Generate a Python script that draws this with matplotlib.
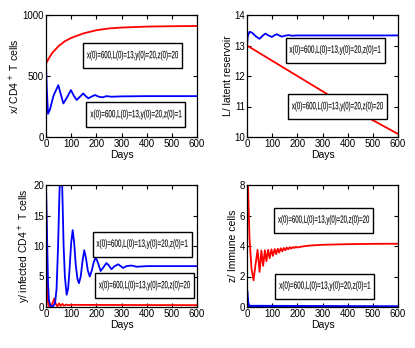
import matplotlib
matplotlib.use("Agg")
import matplotlib.pyplot as plt
import matplotlib.transforms as mtransforms
from matplotlib.textpath import TextPath
from matplotlib.font_manager import FontProperties
from matplotlib.patches import PathPatch, Rectangle

plt.rcParams['font.family'] = ['Liberation Sans', 'DejaVu Sans']

# labels for the two runs
lab_z1 = "x(0)=600,L(0)=13,y(0)=20,z(0)=1"
lab_z20 = "x(0)=600,L(0)=13,y(0)=20,z(0)=20"

# x: CD4+ T cells
x_red_t = [0, 10, 25, 50, 75, 100, 150, 200, 250, 300, 400, 500, 600]
x_red_v = [600, 640, 690, 745, 785, 812, 850, 875, 890, 897, 905, 908, 910]
x_blue_t = [0, 3, 8, 15, 30, 49, 60, 69, 85, 99, 110, 122, 135, 148, 158, 168,
            180, 194, 210, 225, 240, 260, 300, 400, 600]
x_blue_v = [600, 400, 190, 220, 340, 425, 340, 275, 330, 385, 340, 303, 330, 357, 335, 317,
            330, 344, 330, 325, 335, 330, 333, 335, 335]

# L: latent reservoir
L_red_t = [0, 100, 200, 300, 400, 500, 600]
L_red_v = [13.0, 12.5, 12.0, 11.5, 11.0, 10.55, 10.1]
L_blue_t = [0, 3, 10, 20, 35, 50, 62, 73, 85, 99, 110, 119, 130, 139, 150, 165, 180,
            200, 300, 600]
L_blue_v = [13.0, 13.3, 13.45, 13.42, 13.3, 13.22, 13.32, 13.39, 13.33, 13.28, 13.34, 13.37,
            13.32, 13.29, 13.32, 13.34, 13.32, 13.33, 13.33, 13.33]

# y: infected CD4+ T cells
y_blue_t = [0, 4, 8, 12, 18, 28, 36, 42, 48, 53, 57, 60, 63, 66, 70, 75, 82, 88, 94, 100,
            106, 112, 118, 125, 131, 138, 145, 152, 159, 166, 174, 182, 190, 198, 207, 217,
            228, 240, 250, 260, 273, 287, 297, 306, 320, 340, 360, 400, 600]
y_blue_v = [20, 12, 4, 1, 0.2, 0.1, 0.6, 3, 10, 18, 23, 24, 22, 17, 10, 5, 2.0, 3, 6.5, 10.5,
            12.6, 10.5, 7, 4.6, 3.9, 5, 7.5, 9.3, 8, 6, 5.0, 6, 7.4, 8.1, 7.2, 5.9,
            6.5, 7.2, 6.8, 6.2, 6.7, 7.0, 6.7, 6.4, 6.7, 6.8, 6.6, 6.7, 6.7]
y_red_t = [0, 2, 5, 10, 20, 28, 33, 38, 45, 52, 58, 66, 72, 80, 90, 100, 600]
y_red_v = [20, 10, 2, 0.2, 0.1, 0.8, 1.4, 0.6, 0.1, 0.6, 0.2, 0.5, 0.2, 0.4, 0.3, 0.35, 0.3]

# z: immune cells
z_red_t = [0, 4, 10, 18, 26, 34, 42, 50, 57, 64, 71, 77, 84, 90, 97, 103, 110, 116, 122,
           128, 134, 140, 146, 152, 158, 164, 170, 176, 182, 188, 194, 200, 220, 250, 300,
           350, 400, 500, 600]
z_red_v = [20, 8, 4.5, 2.5, 1.75, 2.8, 3.75, 2.3, 3.7, 2.7, 3.72, 3.0, 3.75, 3.2, 3.78, 3.35,
           3.8, 3.47, 3.82, 3.57, 3.85, 3.65, 3.87, 3.72, 3.9, 3.78, 3.92, 3.83, 3.93, 3.87,
           3.95, 3.9, 3.97, 4.03, 4.08, 4.1, 4.12, 4.14, 4.15]
z_blue_t = [0, 3, 8, 600]
z_blue_v = [1, 0.3, 0.05, 0.02]

W, H = 415, 348
fig = plt.figure(figsize=(W / 100, H / 100), dpi=100)
box_font = FontProperties(family='Liberation Sans')


def make_ax(left, top):
    return fig.add_axes([left / W, (H - top - 122) / H, 151 / W, 122 / H])


def style(ax, ylabel, ylim, yticks):
    ax.set_xlim(0, 600)
    ax.set_ylim(*ylim)
    ax.set_xticks(range(0, 601, 100))
    ax.set_yticks(yticks)
    ax.tick_params(direction='in', top=True, right=True, labelsize=7, length=3, pad=1.5)
    for sp in ax.spines.values():
        sp.set_linewidth(0.9)
    ax.set_xlabel("Days", fontsize=7.5, labelpad=1)
    ax.set_ylabel(ylabel, fontsize=7.5, labelpad=1)


def box(ax, x, y, s, bw=99, bh=25):
    # condensed text: glyph outlines squeezed horizontally, sizes in pixels
    tp = TextPath((0, 0), s, size=1, prop=box_font)
    ext = tp.get_extents()
    sx = 91 / ext.width
    sy = 10.5
    where = mtransforms.ScaledTranslation(x, y, ax.transAxes)
    tr = mtransforms.Affine2D().translate(-(ext.x0 + ext.width / 2),
                                          -(ext.y0 + ext.height / 2)).scale(sx, sy) + where
    ax.add_patch(Rectangle((-bw / 2 + 1, -bh / 2 - 1), bw, bh, transform=where, fc='#808080',
                           ec='none', zorder=4, clip_on=False))
    ax.add_patch(Rectangle((-bw / 2, -bh / 2), bw, bh, transform=where, fc='white',
                           ec='black', lw=1, zorder=5, clip_on=False))
    ax.add_patch(PathPatch(tp, transform=tr, fc='black', ec='black', lw=0.05, zorder=6,
                           clip_on=False))


ax1 = make_ax(46, 15)
ax1.plot(x_red_t, x_red_v, color='red', lw=1.3)
ax1.plot(x_blue_t, x_blue_v, color='blue', lw=1.3)
style(ax1, "x/ CD4$^+$ T cells", (0, 1000), [0, 500, 1000])
box(ax1, 0.573, 0.668, lab_z20)
box(ax1, 0.596, 0.184, lab_z1)

ax2 = make_ax(247, 15)
ax2.plot(L_red_t, L_red_v, color='red', lw=1.3)
ax2.plot(L_blue_t, L_blue_v, color='blue', lw=1.3)
style(ax2, "L/ latent reservoir", (10, 14), [10, 11, 12, 13, 14])
box(ax2, 0.583, 0.713, lab_z1)
box(ax2, 0.599, 0.25, lab_z20)

ax3 = make_ax(46, 185)
ax3.plot(y_red_t, y_red_v, color='red', lw=1.3)
ax3.plot(y_blue_t, y_blue_v, color='blue', lw=1.3)
style(ax3, "y/ infected CD4$^+$ T cells", (0, 20), [0, 5, 10, 15, 20])
box(ax3, 0.636, 0.516, lab_z1)
box(ax3, 0.652, 0.176, lab_z20)

ax4 = make_ax(247, 185)
ax4.plot(z_red_t, z_red_v, color='red', lw=1.3)
ax4.plot(z_blue_t, z_blue_v, color='blue', lw=2)
style(ax4, "z/ Immune cells", (0, 8), [0, 2, 4, 6, 8])
box(ax4, 0.507, 0.713, lab_z20)
box(ax4, 0.515, 0.172, lab_z1)

fig.savefig("out.png", dpi=100)
